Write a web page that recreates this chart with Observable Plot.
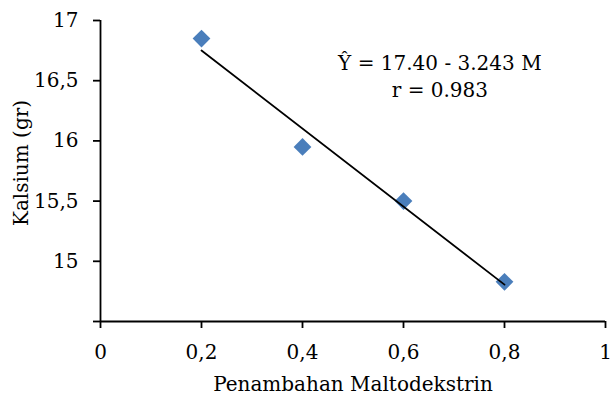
<!DOCTYPE html>
<html><head><meta charset="utf-8">
<script src="https://cdn.jsdelivr.net/npm/d3@7"></script>
<script src="https://cdn.jsdelivr.net/npm/@observablehq/plot@0.6"></script>
<style>
html,body{margin:0;padding:0;background:#fff}
#chart svg{display:block}
</style>
</head><body><div id="chart"></div>
<script>
// Data
const maltodekstrin = [0.2, 0.4, 0.6, 0.8];
const kalsium = [16.85, 15.95, 15.5, 14.83];
// fitted regression line endpoints (Ŷ = 17.40 - 3.243 M at M = 0.2 and 0.8)
const trendX = [0.2, 0.8];
const trendY = [16.751, 14.806];
const xTicks = [0, 0.2, 0.4, 0.6, 0.8, 1];
const xTickLabels = ["0", "0,2", "0,4", "0,6", "0,8", "1"];
const yTicks = [14.5, 15, 15.5, 16, 16.5, 17];
const yTickLabels = ["", "15", "15,5", "16", "16,5", "17"];
const equationLines = ["Ŷ = 17.40 - 3.243 M", "r = 0.983"];
const equationAnchor = {x: 0.672, y: 16.545};
const xTitle = "Penambahan Maltodekstrin";
const yTitle = "Kalsium (gr)";

const points = maltodekstrin.map((m, i) => ({m, k: kalsium[i]}));
const trend = trendX.map((m, i) => ({m, k: trendY[i]}));
const font = "DejaVu Serif";

const chart = Plot.plot({
  width: 611,
  height: 398,
  marginLeft: 100,
  marginRight: 6,
  marginTop: 20,
  marginBottom: 77,
  style: {fontFamily: font, fontSize: "20px", color: "#000", background: "#fff"},
  x: {domain: [0, 1]},
  y: {domain: [14.5, 17]},
  marks: [
    Plot.axisX({
      ticks: xTicks, tickSize: 7, tickPadding: 16,
      tickFormat: (d) => xTickLabels[xTicks.indexOf(d)],
      label: xTitle, labelAnchor: "center", labelArrow: "none", labelOffset: 69,
      fontSize: 20, strokeWidth: 1.8
    }),
    Plot.axisY({
      ticks: yTicks, tickSize: 7, tickPadding: 15,
      tickFormat: (d) => yTickLabels[yTicks.indexOf(d)],
      label: null,
      fontSize: 20, strokeWidth: 1.8
    }),
    Plot.text([yTitle], {
      frameAnchor: "left", rotate: -90, dx: -79, dy: -8,
      text: (d) => d, fontSize: 20, textAnchor: "middle", lineAnchor: "middle", fill: "#000"
    }),
    Plot.ruleX([0], {stroke: "#000", strokeWidth: 1.8}),
    Plot.ruleY([14.5], {stroke: "#000", strokeWidth: 1.8}),
    Plot.dot(points, {x: "m", y: "k", symbol: "diamond2", r: 8, fill: "#4A7EBB", stroke: "none"}),
    Plot.line(trend, {x: "m", y: "k", stroke: "#000", strokeWidth: 1.8}),
    Plot.text([equationLines.join("\n")], {
      x: () => equationAnchor.x, y: () => equationAnchor.y,
      text: (d) => d, fontSize: 20, lineHeight: 1.35, textAnchor: "middle", fill: "#000"
    })
  ]
});
document.getElementById("chart").append(chart);
</script>
</body></html>
